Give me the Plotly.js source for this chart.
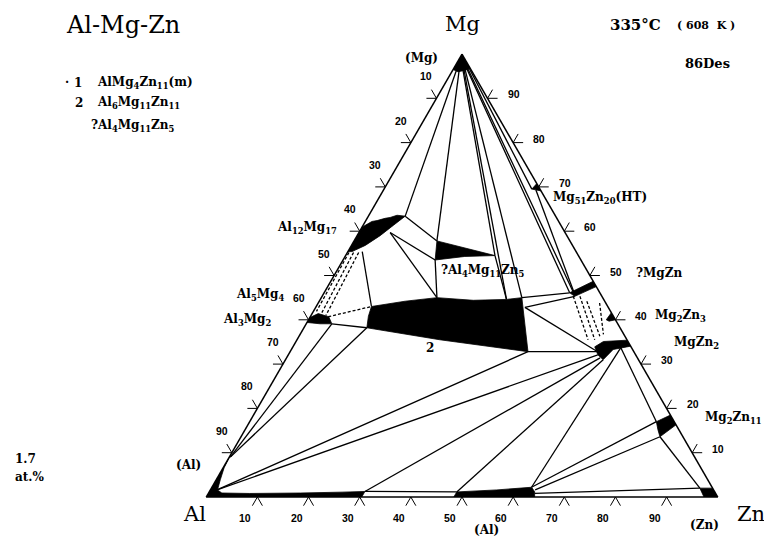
<!DOCTYPE html>
<html><head><meta charset="utf-8">
<script src="https://cdn.plot.ly/plotly-3.0.1.min.js"></script>
<style>html,body{margin:0;padding:0;background:#fff}#chart{width:764px;height:537px}</style>
</head><body><div id="chart"></div>
<script>
// All compositions in at.% given as [Mg, Zn]; Al = 100 - Mg - Zn
const tickValues = [10, 20, 30, 40, 50, 60, 70, 80, 90];

// single-phase regions (filled black)
const phaseMgSS   = [[100,0],[96.5,0],[96.0,1.2],[96.3,2.4],[96.8,3.2]];
const phaseAlSS   = [[0,0],[9.5,0],[6.6,0.2],[3.9,0.8],[1.6,1.4],[0.9,2.6],[0.8,8],[0.9,18],[1.1,26],[1.25,30.4],[0,30.4]];
const phaseAlSS2  = [[0,48.4],[1.15,48.4],[1.6,56],[2.2,62.5],[1.2,63.6],[0,64.2]];
const phaseZnSS   = [[0,100],[2.0,98.0],[2.0,95.5],[0,97.3]];
const phaseAl12Mg17 = [[55.4,0],[60.9,0],[61.6,0.7],[62.2,1.3],[62.4,2.2],[62.9,3.5],[63.1,4.4],[63.6,5.5],[63.4,7.2],[61.3,5.9],[59.0,4.5],[56.8,2.7],[55.4,0.8]];
const phaseAl3Mg2 = [[40.5,0],[41.4,1.2],[40.7,3.6],[39.1,5.0],[39.1,2.7],[39.4,0]];
const phaseT2     = [[43.0,10.8],[44.2,16.8],[45.0,22.6],[44.4,30.0],[44.6,36.4],[45.0,39.2],[32.8,46.5],[35.5,27.9],[38.2,12.3],[40.8,11.3]];
const phaseAl4Mg11Zn5 = [[57.8,16.2],[54.5,29.2],[54.3,23.4],[53.5,18.0]];
const phaseMg51Zn20 = [[69.5,28.9],[70.75,29.25],[69.1,30.9]];
const phaseMgZn   = [[46.1,48.0],[48.7,51.3],[47.5,52.5],[45.3,49.4]];
const phaseMg2Zn3 = [[40.0,58.2],[41.6,58.4],[40.0,60.0],[39.7,58.9]];
const phaseMgZn2  = [[33.9,59.0],[35.1,60.1],[35.4,64.6],[34.05,65.95],[33.3,62.9],[31.0,62.1],[32.1,60.5]];
const phaseMg2Zn11 = [[17.0,79.5],[18.5,81.5],[16.3,83.7],[13.6,81.9],[15.2,80.7]];
const phases = [phaseMgSS, phaseAlSS, phaseAlSS2, phaseZnSS, phaseAl12Mg17, phaseAl3Mg2, phaseT2,
                phaseAl4Mg11Zn5, phaseMg51Zn20, phaseMgZn, phaseMg2Zn3, phaseMgZn2, phaseMg2Zn11];

// tie lines / phase boundaries (solid)
const tieLines = [
  [[96.6,0.7],[63.4,7.2]],
  [[96.8,1.1],[57.8,16.2]],
  [[97.0,1.6],[54.5,29.2]],
  [[97.0,1.8],[44.6,36.4]],
  [[97.0,2.0],[45.0,39.2]],
  [[97.0,2.3],[46.1,48.0]],
  [[96.9,2.6],[46.4,48.5]],
  [[96.8,3.0],[69.5,28.9]],
  [[69.3,29.8],[45.7,49.2]],
  [[63.4,7.2],[57.8,16.2]],
  [[59.7,6.1],[53.5,18.0]],
  [[59.7,6.1],[45.0,22.6]],
  [[55.4,2.8],[43.0,10.8]],
  [[53.5,18.0],[45.0,22.6]],
  [[54.5,29.2],[44.6,36.4]],
  [[45.0,39.2],[46.1,48.0]],
  [[42.8,40.9],[45.3,49.4]],
  [[42.8,40.9],[32.9,59.9]],
  [[32.8,46.5],[32.8,60.0]],
  [[39.1,5.0],[38.2,12.3]],
  [[9.0,0.2],[39.1,5.0]],
  [[9.0,0.2],[38.2,12.3]],
  [[1.6,1.3],[32.8,46.5]],
  [[1.6,1.3],[32.1,60.5]],
  [[1.25,30.4],[31.4,61.3]],
  [[1.25,30.4],[1.15,48.4]],
  [[1.15,48.4],[31.0,62.1]],
  [[2.2,62.5],[33.7,64.2]],
  [[33.7,64.2],[17.0,79.5]],
  [[2.2,62.5],[17.0,79.5]],
  [[1.6,63.5],[13.6,81.9]],
  [[13.6,81.9],[2.0,95.5]],
  [[0.84,63.8],[2.0,95.5]]
];
// uncertain boundaries (dashed)
const dashedLines = [
  [[55.2,0.3],[41.9,0.6]],
  [[55.2,1.2],[41.5,1.8]],
  [[55.2,2.2],[41.0,2.9]],
  [[40.7,3.5],[43.0,10.8]],
  [[45.3,49.1],[35.5,56.9]],
  [[45.3,50.4],[35.5,58.2]],
  [[44.2,52.3],[36.3,58.8]],
  [[43.8,55.0],[36.7,59.3]]
];

// labels
const phaseLabels = ['Al<sub>12</sub>Mg<sub>17</sub>','Al<sub>5</sub>Mg<sub>4</sub>','Al<sub>3</sub>Mg<sub>2</sub>',
  '?Al<sub>4</sub>Mg<sub>11</sub>Zn<sub>5</sub>','Mg<sub>51</sub>Zn<sub>20</sub>(HT)','?MgZn','Mg<sub>2</sub>Zn<sub>3</sub>',
  'MgZn<sub>2</sub>','Mg<sub>2</sub>Zn<sub>11</sub>','2'];
const legendLabels = ['AlMg<sub>4</sub>Zn<sub>11</sub>(m)','Al<sub>6</sub>Mg<sub>11</sub>Zn<sub>11</sub>','?Al<sub>4</sub>Mg<sub>11</sub>Zn<sub>5</sub>'];

// ---------- geometry ----------
const W = 764, HH = 537;
const DOM_X = [206, 718], DOM_Y = [54, 497];            // pixel box of the ternary domain
const SIDE = Math.min(DOM_X[1]-DOM_X[0], (DOM_Y[1]-DOM_Y[0])*2/Math.sqrt(3));
const H = SIDE*Math.sqrt(3)/2;
const X0 = (DOM_X[0]+DOM_X[1])/2 - SIDE/2, Y0 = (DOM_Y[0]+DOM_Y[1])/2 + H/2;
// composition -> paper coords (used only for axis decorations: tick strokes and tick labels)
function px(mg, zn){ return [X0 + SIDE*(zn + mg/2)/100, Y0 - H*mg/100]; }
function paper(p){ return [p[0]/W, 1 - p[1]/HH]; }

function tern(pts){ return {a: pts.map(p=>p==null?null:p[0]), b: pts.map(p=>p==null?null:100-p[0]-p[1]), c: pts.map(p=>p==null?null:p[1])}; }
function joinSegs(segs){ const out=[]; segs.forEach((s,i)=>{ if(i) out.push(null); s.forEach(p=>out.push(p)); }); return out; }

const traces = [];
phases.forEach(ph => {
  traces.push(Object.assign({type:'scatterternary', mode:'lines', fill:'toself', fillcolor:'black',
    line:{color:'black', width:0.8}, hoverinfo:'skip'}, tern(ph.concat([ph[0]]))));
});
traces.push(Object.assign({type:'scatterternary', mode:'lines', line:{color:'black', width:1.3},
  hoverinfo:'skip', connectgaps:false}, tern(joinSegs(tieLines))));
traces.push(Object.assign({type:'scatterternary', mode:'lines', line:{color:'black', width:1.3, dash:'3px,2px'},
  hoverinfo:'skip', connectgaps:false}, tern(joinSegs(dashedLines))));

// tick strokes: two short outward strokes per tick, parallel to the other two edges
const L = 10, c60 = 0.5, s60 = Math.sqrt(3)/2;
const shapes = [];
function stroke(p, dx, dy){
  const a = paper(p), b = paper([p[0]+dx, p[1]+dy]);
  shapes.push({type:'line', xref:'paper', yref:'paper', x0:a[0], y0:a[1], x1:b[0], y1:b[1], line:{color:'#000000', width:1}});
}
const annotations = [];
function tickLabel(p, dx, dy, v){
  const q = paper([p[0]+dx, p[1]+dy]);
  annotations.push({x:q[0], y:q[1], xref:'paper', yref:'paper', text:String(v), showarrow:false,
    xanchor:'center', yanchor:'middle',
    font:{family:'Liberation Sans, Arial, sans-serif', size:10.5, color:'#000000', weight:'bold'}});
}
tickValues.forEach(v => {
  const pl = px(100-v, 0);            // left edge, Al = v
  stroke(pl, -L, 0); stroke(pl, -L*c60, -L*s60); tickLabel(pl, -10, -22, v);
  const pb = px(0, v);                // bottom edge, Zn = v
  stroke(pb, -L*c60, L*s60); stroke(pb, L*c60, L*s60); tickLabel(pb, -12, 21, v);
  const pr = px(v, 100-v);            // right edge, Mg = v
  stroke(pr, L, 0); stroke(pr, L*c60, -L*s60); tickLabel(pr, 26, -4, v);
});

// ---------- free text ----------
const serif = 'DejaVu Serif, serif';
function bfont(size){ return {family:serif, size:size, color:'#000000', weight:'bold'}; }
function ann(text, x, y, size, opts){
  annotations.push(Object.assign({x:x/W, y:1-y/HH, xref:'paper', yref:'paper', text:text, showarrow:false,
    xanchor:'center', yanchor:'middle', font:{family:serif, size:size, color:'#000000'}}, opts||{}));
}
ann('Al-Mg-Zn', 123, 25, 24);
ann('Mg', 462, 24, 21);
ann('Al', 194, 514, 21);
ann('Zn', 751, 514, 21);
ann('335°C', 608, 25, 15, {xanchor:'left', font:bfont(15)});
ann('( 608 &nbsp;K )', 675, 26, 11, {xanchor:'left', font:bfont(11)});
ann('86Des', 683, 63, 13, {xanchor:'left', font:bfont(13)});
ann('·', 67, 82, 12, {font:bfont(12)});
ann('1', 78, 83, 12, {font:bfont(12)});
ann(legendLabels[0], 95, 83, 12, {xanchor:'left', font:bfont(12)});
ann('2', 79, 103, 12, {font:bfont(12)});
ann(legendLabels[1], 95, 103, 12, {xanchor:'left', font:bfont(12)});
ann(legendLabels[2], 89, 126, 12, {xanchor:'left', font:bfont(12)});
ann('1.7', 13, 459, 12, {xanchor:'left', font:bfont(12)});
ann('at.%', 13, 477, 12, {xanchor:'left', font:bfont(12)});
ann('(Mg)', 421, 58, 12, {font:bfont(12)});
ann('(Al)', 188, 465, 12, {font:bfont(12)});
ann('(Al)', 486, 530, 12, {font:bfont(12)});
ann('(Zn)', 704, 525, 12, {font:bfont(12)});
ann(phaseLabels[0], 275, 228, 12, {xanchor:'left', font:bfont(12)});
ann(phaseLabels[1], 286, 295, 12, {xanchor:'right', font:bfont(12)});
ann(phaseLabels[2], 273, 320, 12, {xanchor:'right', font:bfont(12)});
ann(phaseLabels[3], 439, 271, 12, {xanchor:'left', font:bfont(12)});
ann(phaseLabels[4], 551, 198, 12, {xanchor:'left', font:bfont(12)});
ann(phaseLabels[5], 634, 273, 12, {xanchor:'left', font:bfont(12)});
ann(phaseLabels[6], 653, 316, 12, {xanchor:'left', font:bfont(12)});
ann(phaseLabels[7], 672, 343, 12, {xanchor:'left', font:bfont(12)});
ann(phaseLabels[8], 703, 418, 12, {xanchor:'left', font:bfont(12)});
ann(phaseLabels[9], 430, 348, 12, {font:bfont(12)});

const axisStyle = {showline:true, linecolor:'black', linewidth:1.5, showgrid:false, showticklabels:false, ticks:'', title:{text:''}};
const layout = {
  width:W, height:HH, margin:{l:0, r:0, t:0, b:0}, paper_bgcolor:'white', showlegend:false,
  ternary:{sum:100, bgcolor:'white',
    domain:{x:[DOM_X[0]/W, DOM_X[1]/W], y:[(HH-DOM_Y[1])/HH, (HH-DOM_Y[0])/HH]},
    aaxis:axisStyle, baxis:axisStyle, caxis:axisStyle},
  shapes:shapes,
  annotations:annotations
};
Plotly.newPlot('chart', traces, layout, {displayModeBar:false, staticPlot:true});
</script>
</body></html>
